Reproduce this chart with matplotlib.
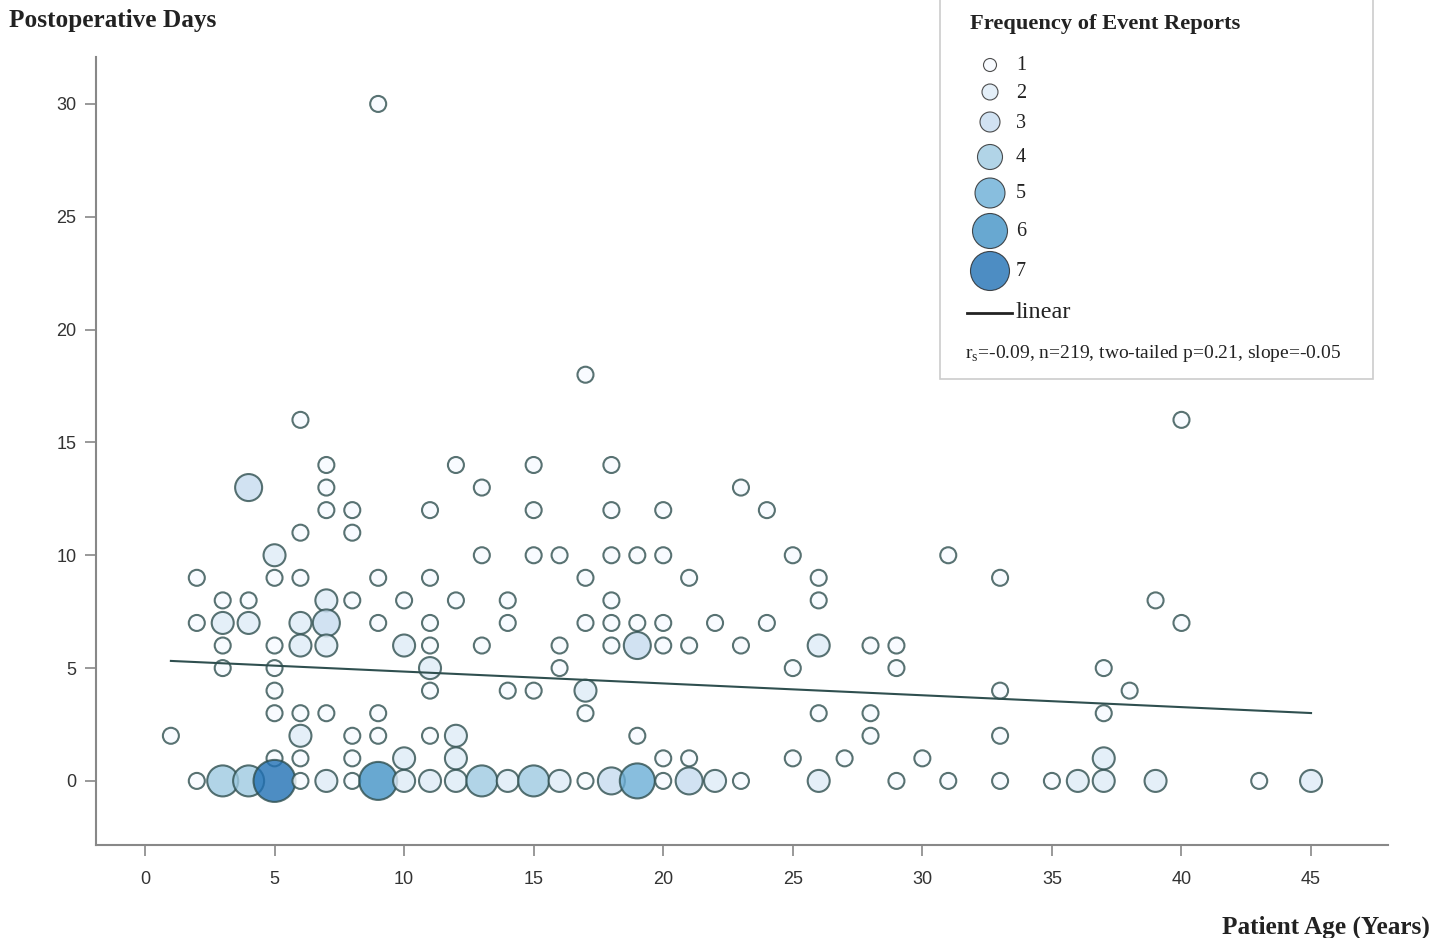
"""
Postoperative days vs patient age, bubble size = frequency of event reports.
"""

import matplotlib.pyplot as plt
import numpy as np
from matplotlib.patches import Rectangle

# Data: (age, postoperative days, frequency)
ages = [1, 2, 2, 2,
        3, 3, 3, 3, 3,
        4, 4, 4, 4,
        5, 5, 5, 5, 5, 5, 5, 5,
        6, 6, 6, 6, 6, 6, 6, 6, 6,
        7, 7, 7, 7, 7, 7, 7, 7,
        8, 8, 8, 8, 8, 8,
        9, 9, 9, 9, 9, 9,
        10, 10, 10, 10,
        11, 11, 11, 11, 11, 11, 11, 11,
        12, 12, 12, 12, 12,
        13, 13, 13, 13,
        14, 14, 14, 14,
        15, 15, 15, 15, 15,
        16, 16, 16, 16,
        17, 17, 17, 17, 17, 17,
        18, 18, 18, 18, 18, 18, 18,
        19, 19, 19, 19, 19,
        20, 20, 20, 20, 20, 20,
        21, 21, 21, 21,
        22, 22,
        23, 23, 23,
        24, 24,
        25, 25, 25,
        26, 26, 26, 26, 26,
        27,
        28, 28, 28,
        29, 29, 29,
        30,
        31, 31,
        33, 33, 33, 33,
        35, 36,
        37, 37, 37, 37,
        38,
        39, 39,
        40, 40,
        43, 45]
days = [2, 9, 7, 0,
        8, 7, 6, 5, 0,
        13, 8, 7, 0,
        10, 9, 6, 5, 4, 3, 1, 0,
        16, 11, 9, 7, 6, 3, 2, 1, 0,
        14, 13, 12, 8, 7, 6, 3, 0,
        12, 11, 8, 2, 1, 0,
        30, 9, 7, 3, 2, 0,
        8, 6, 1, 0,
        12, 9, 7, 6, 5, 4, 2, 0,
        14, 8, 2, 1, 0,
        13, 10, 6, 0,
        8, 7, 4, 0,
        14, 12, 10, 4, 0,
        10, 6, 5, 0,
        18, 9, 7, 4, 3, 0,
        14, 12, 10, 8, 7, 6, 0,
        10, 7, 6, 2, 0,
        12, 10, 7, 6, 1, 0,
        9, 6, 1, 0,
        7, 0,
        13, 6, 0,
        12, 7,
        10, 5, 1,
        9, 8, 6, 3, 0,
        1,
        6, 3, 2,
        6, 5, 0,
        1,
        10, 0,
        9, 4, 2, 0,
        0, 0,
        5, 3, 1, 0,
        4,
        8, 0,
        16, 7,
        0, 0]
freq = [1, 1, 1, 1,
        1, 2, 1, 1, 4,
        3, 1, 2, 4,
        2, 1, 1, 1, 1, 1, 1, 7,
        1, 1, 1, 2, 2, 1, 2, 1, 1,
        1, 1, 1, 2, 3, 2, 1, 2,
        1, 1, 1, 1, 1, 1,
        1, 1, 1, 1, 1, 6,
        1, 2, 2, 2,
        1, 1, 1, 1, 2, 1, 1, 2,
        1, 1, 2, 2, 2,
        1, 1, 1, 4,
        1, 1, 1, 2,
        1, 1, 1, 1, 4,
        1, 1, 1, 2,
        1, 1, 1, 2, 1, 1,
        1, 1, 1, 1, 1, 1, 3,
        1, 1, 3, 1, 5,
        1, 1, 1, 1, 1, 1,
        1, 1, 1, 3,
        1, 2,
        1, 1, 1,
        1, 1,
        1, 1, 1,
        1, 1, 2, 1, 2,
        1,
        1, 1, 1,
        1, 1, 1,
        1,
        1, 1,
        1, 1, 1, 1,
        1, 2,
        1, 1, 2, 2,
        1,
        1, 2,
        1, 1,
        1, 2]

# Linear fit
fit_intercept = 5.37
fit_slope = -0.0525
fit_range = [1, 45]

legend_levels = [1, 2, 3, 4, 5, 6, 7]
stats_text = "r$_{\\mathrm{s}}$=-0.09, n=219, two-tailed p=0.21, slope=-0.05"

# Style
W, H, DPI = 1446, 938, 100
level_colors = ["#f7fbff", "#deebf7", "#c6dbef", "#9ecae1",
                "#6baed6", "#4292c6", "#2171b5"]
plot_diam_px = [16, 22, 27, 31, 35, 38, 42]
legend_diam_px = [13, 16, 20, 25, 30, 35, 39]
edge_color = "#2f4f4f"
axis_color = "#888888"
serif = ["Liberation Serif", "DejaVu Serif"]

plt.rcParams["font.family"] = ["Liberation Sans", "DejaVu Sans"]
plt.rcParams["mathtext.fontset"] = "custom"
plt.rcParams["mathtext.rm"] = "Liberation Serif"


def px_to_area(d):
    """marker diameter in pixels -> scatter area in points^2"""
    return (d * 72.0 / DPI) ** 2


def main():
    fig = plt.figure(figsize=(W / DPI, H / DPI), dpi=DPI)
    ax = fig.add_axes([96 / W, 1 - 845 / H, (1388 - 96) / W, (845 - 57) / H])

    f = np.array(freq)
    sizes = [px_to_area(plot_diam_px[k - 1]) for k in f]
    colors = [level_colors[k - 1] for k in f]
    ax.scatter(ages, days, s=sizes, c=colors, edgecolors=edge_color,
               linewidths=1.5, alpha=0.8, zorder=3)

    xs = np.array(fit_range, dtype=float)
    ax.plot(xs, fit_intercept + fit_slope * xs, color=edge_color, lw=1.5,
            zorder=4)

    ax.set_xlim(-1.89, 47.97)
    ax.set_ylim(-2.84, 32.08)
    ax.set_xticks(np.arange(0, 46, 5))
    ax.set_yticks(np.arange(0, 31, 5))
    for side in ["top", "right"]:
        ax.spines[side].set_visible(False)
    for side in ["left", "bottom"]:
        ax.spines[side].set_color(axis_color)
        ax.spines[side].set_linewidth(1.5)
    ax.tick_params(colors=axis_color, labelcolor="#333333", labelsize=13,
                   length=8, width=1.2, pad=6)
    ax.tick_params(axis="x", pad=11)

    # overlay in pixel coordinates for titles and legend
    ov = fig.add_axes([0, 0, 1, 1], zorder=10)
    ov.set_xlim(0, W)
    ov.set_ylim(H, 0)
    ov.axis("off")
    ov.patch.set_alpha(0)

    ov.text(9, 21, "Postoperative Days", family=serif, weight="bold",
            fontsize=18.2, color="#222222", va="center", ha="left")
    ov.text(1430, 927, "Patient Age (Years)", family=serif, weight="bold",
            fontsize=18.2, color="#222222", va="center", ha="right")

    ov.add_patch(Rectangle((940, -5), 433, 384, facecolor="white",
                           edgecolor="#cccccc", lw=1.2))
    ov.text(970, 24, "Frequency of Event Reports", family=serif,
            weight="bold", fontsize=16.2, color="#222222", va="center")

    leg_y = [65, 92, 122, 157, 193, 231, 271]
    ov.scatter([990] * len(legend_levels), leg_y,
               s=[px_to_area(d) for d in legend_diam_px],
               c=level_colors, edgecolors="#222222", linewidths=0.8,
               alpha=0.8, zorder=11)
    for lvl, y in zip(legend_levels, leg_y):
        ov.text(1016, y + 1, str(lvl), family=serif, fontsize=14.5,
                color="#222222", va="center")

    ov.plot([967, 1012], [313, 313], color="#222222", lw=2)
    ov.text(1016, 313, "linear", family=serif, fontsize=17.5,
            color="#222222", va="center")
    ov.text(965, 353, stats_text, family=serif, fontsize=14,
            color="#222222", va="center")

    fig.savefig("out.png", dpi=DPI)


if __name__ == "__main__":
    main()
